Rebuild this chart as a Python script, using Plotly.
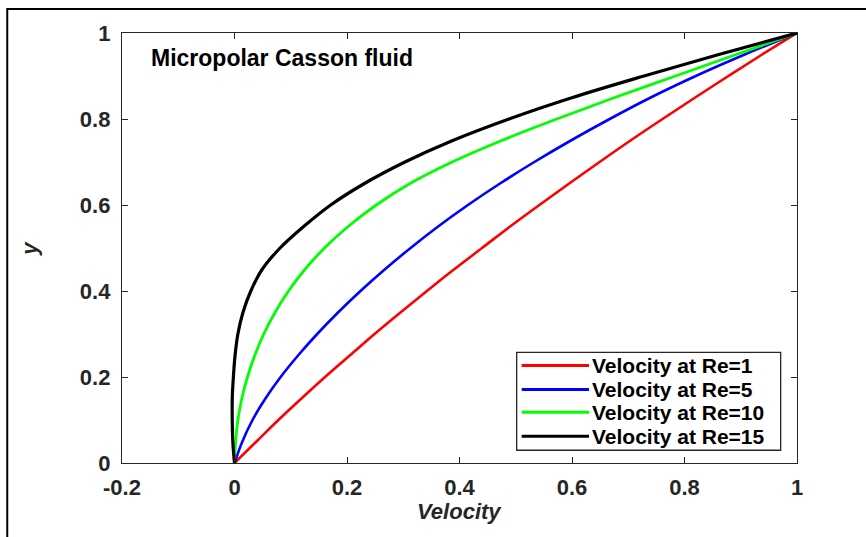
import plotly.graph_objects as go

# ---------------- data ----------------
y_pos = [0, 0.05, 0.1, 0.15, 0.2, 0.25, 0.3, 0.35, 0.4, 0.45, 0.5,
         0.55, 0.6, 0.65, 0.7, 0.75, 0.8, 0.85, 0.9, 0.95, 1.0]

vel_re1 = [0, 0.039, 0.078, 0.119, 0.161, 0.205, 0.249, 0.295, 0.342, 0.390, 0.440,
           0.490, 0.542, 0.595, 0.649, 0.704, 0.761, 0.819, 0.878, 0.938, 1.0]
vel_re5 = [0, 0.014, 0.032, 0.055, 0.082, 0.113, 0.147, 0.184, 0.224, 0.267, 0.313,
           0.362, 0.415, 0.472, 0.533, 0.598, 0.667, 0.740, 0.820, 0.907, 1.0]
vel_re10 = [0, 0.002, 0.006, 0.013, 0.023, 0.036, 0.052, 0.072, 0.096, 0.125, 0.160,
            0.202, 0.252, 0.312, 0.387, 0.475, 0.573, 0.676, 0.784, 0.892, 1.0]
vel_re15 = [0, -0.003, -0.004, -0.004, -0.002, 0.001, 0.006, 0.015, 0.029, 0.049, 0.081,
            0.123, 0.171, 0.231, 0.303, 0.388, 0.488, 0.601, 0.728, 0.861, 1.0]

series_names = ["Velocity at Re=1", "Velocity at Re=5", "Velocity at Re=10", "Velocity at Re=15"]
series_values = [vel_re1, vel_re5, vel_re10, vel_re15]
series_colors = ["#ff0000", "#0000ff", "#00ff00", "#000000"]
series_widths = [2.6, 2.6, 2.8, 3.2]

x_tick_vals = [-0.2, 0, 0.2, 0.4, 0.6, 0.8, 1]
x_tick_text = ["-0.2", "0", "0.2", "0.4", "0.6", "0.8", "1"]
y_tick_vals = [0, 0.2, 0.4, 0.6, 0.8, 1]
y_tick_text = ["0", "0.2", "0.4", "0.6", "0.8", "1"]

x_title = "Velocity"
y_title = "y"
note_text = "Micropolar Casson fluid"

# ---------------- figure ----------------
FONT = "Liberation Sans, Arial, Helvetica, sans-serif"
AXC = "#262626"

fig = go.Figure()
for name, vals, col, w in zip(series_names, series_values, series_colors, series_widths):
    fig.add_trace(go.Scatter(x=vals, y=y_pos, mode="lines", name=name,
                             line=dict(color=col, width=w, shape="spline", smoothing=1.0),
                             showlegend=False))

axis_common = dict(showgrid=False, zeroline=False, showline=True, linecolor=AXC, linewidth=1.3,
                   mirror="ticks", ticks="inside", ticklen=6, tickcolor=AXC, tickwidth=1.3,
                   tickfont=dict(family=FONT, size=22, color=AXC, weight="bold"))

fig.update_xaxes(range=[-0.2, 1], tickmode="array", tickvals=x_tick_vals, ticktext=x_tick_text,
                 ticklabelstandoff=4, **axis_common)
fig.update_yaxes(range=[0, 1], tickmode="array", tickvals=y_tick_vals, ticktext=y_tick_text,
                 ticklabelstandoff=6, **axis_common)

annotations = [
    dict(text=note_text, x=0.04, y=0.942, xref="paper", yref="paper", xanchor="left", yanchor="middle",
         showarrow=False, font=dict(family=FONT, size=23, color="black", weight="bold")),
    dict(text=x_title, x=0.5, y=-0.113, xref="paper", yref="paper", xanchor="center", yanchor="middle",
         showarrow=False, font=dict(family=FONT, size=22, color=AXC, weight="bold", style="italic")),
    dict(text=y_title, x=-0.138, y=0.5, xref="paper", yref="paper", xanchor="center", yanchor="middle",
         textangle=-90, showarrow=False,
         font=dict(family=FONT, size=22, color=AXC, weight="bold", style="italic")),
]

shapes = [
    # outer figure frame
    dict(type="rect", xref="paper", yref="paper", x0=-0.17, x1=1.12, y0=-0.2, y1=1.0557,
         line=dict(color="black", width=2), fillcolor="rgba(0,0,0,0)", layer="above"),
    # legend box
    dict(type="rect", xref="paper", yref="paper", x0=0.5847, x1=0.9758, y0=0.0297, y1=0.2574,
         line=dict(color=AXC, width=1.3), fillcolor="white", layer="above"),
]

leg_rows = [0.2265, 0.1707, 0.1180, 0.0622]
for name, col, yy in zip(series_names, series_colors, leg_rows):
    shapes.append(dict(type="line", xref="paper", yref="paper", x0=0.5921, x1=0.6919, y0=yy, y1=yy,
                       line=dict(color=col, width=3), layer="above"))
    annotations.append(dict(text=name, x=0.6933, y=yy, xref="paper", yref="paper",
                            xanchor="left", yanchor="middle", showarrow=False,
                            font=dict(family=FONT, size=21, color="black", weight="bold")))

fig.update_layout(width=866, height=537, margin=dict(l=122, r=69, t=33, b=74),
                  paper_bgcolor="white", plot_bgcolor="white",
                  annotations=annotations, shapes=shapes, showlegend=False)

fig.write_html("out.html")
